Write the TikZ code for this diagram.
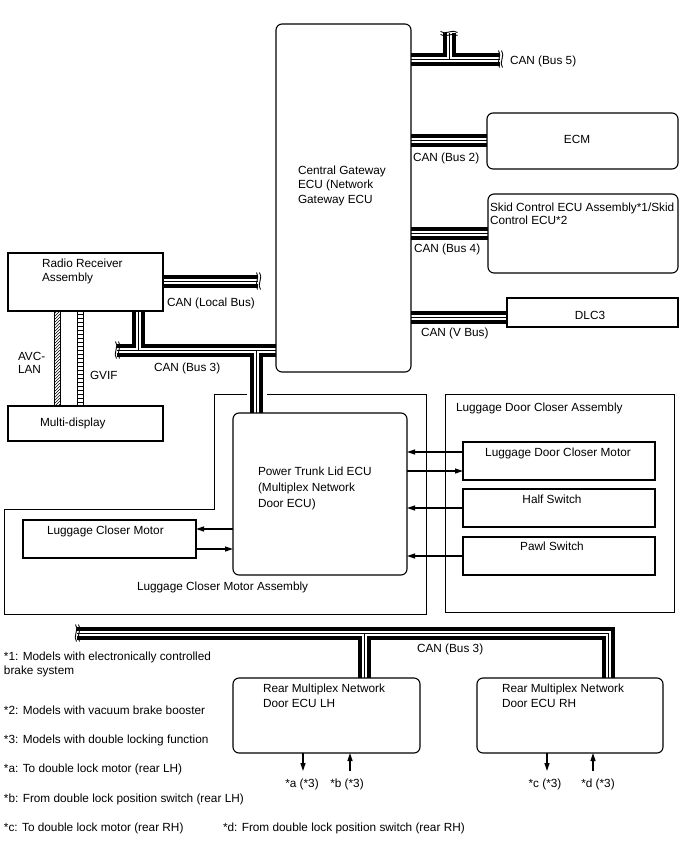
\documentclass[tikz,border=0pt]{standalone}
\usepackage{fontspec}
\setmainfont{Liberation Sans}
\usetikzlibrary{arrows.meta}
\pgfdeclarelayer{bg}
\pgfsetlayers{bg,main}
\newcommand\busdraw[1]{\draw[busA]#1;\draw[busB]#1;\draw[busC]#1;}
\begin{document}
\begin{tikzpicture}[x=1pt,y=-1pt,
  every node/.style={inner sep=0pt, outer sep=0pt},
  txt/.style={font=\fontsize{11.8}{14}\selectfont, align=left},
  rbox/.style={draw, line width=1.1pt, rounded corners=6pt, anchor=north west},
  sbox/.style={draw, line width=1.1pt, anchor=north west},
  frame/.style={draw, line width=1pt},
  busA/.style={line width=13pt, line join=miter},
  busB/.style={line width=5pt, white, line join=miter},
  busC/.style={line width=1pt},
  arr/.style={line width=1.2pt, -{Triangle[length=8pt,width=5pt]}},
  vsq/.pic={\draw[line width=0.9pt] (-1.5,-8.5) .. controls (2.5,-4) and (-4.5,4) .. (-0.5,8.5);
            \draw[line width=0.9pt] (1.5,-8.5) .. controls (5.5,-4) and (-1.5,4) .. (2.5,8.5);},
  hsq/.pic={\draw[line width=0.9pt] (-8.5,-1.5) .. controls (-4,2.5) and (4,-4.5) .. (8.5,-0.5);
            \draw[line width=0.9pt] (-8.5,1.5) .. controls (-4,5.5) and (4,-1.5) .. (8.5,2.5);}
]
\useasboundingbox (0,0) rectangle (688,852);

% ---------- boxes ----------
\node[rbox, minimum width=135pt, minimum height=348pt] (gw) at (276,24) {};
\node[rbox, minimum width=191pt, minimum height=56pt] (ecm) at (487,113) {};
\node[rbox, minimum width=190pt, minimum height=79pt] (skid) at (488,194) {};
\node[sbox, minimum width=171pt, minimum height=29pt] (dlc) at (507,298) {};
\node[sbox, minimum width=155pt, minimum height=58pt] (radio) at (8,253) {};
\node[sbox, minimum width=155pt, minimum height=35pt] (md) at (8,406) {};
\node[rbox, minimum width=174pt, minimum height=162pt] (ptl) at (233,413) {};
\node[sbox, minimum width=173pt, minimum height=38pt] (lcm) at (23,520) {};
\node[frame, anchor=north west, minimum width=229pt, minimum height=218pt] (ldca) at (445,394) {};
\node[sbox, minimum width=192pt, minimum height=38pt] (ldcm) at (463,442) {};
\node[sbox, minimum width=192pt, minimum height=38pt] (half) at (463,489) {};
\node[sbox, minimum width=192pt, minimum height=38pt] (pawl) at (463,537) {};
\node[rbox, minimum width=187pt, minimum height=75pt] (rlh) at (233,678) {};
\node[rbox, minimum width=186pt, minimum height=75pt] (rrh) at (477,678) {};

% Luggage Closer Motor Assembly frame
\draw[frame] (247,394) -- (214,394) -- (214,509) -- (4,509) -- (4,614) -- (426,614) -- (426,394) -- (267,394);

% ---------- texts ----------
\node[txt, anchor=north west] (tgw) at (298,165.7) {Central Gateway\\[0.5pt]ECU (Network\\[0.5pt]Gateway ECU};
\node[txt, anchor=base] (tecm) at (577,143.1) {ECM};
\node[txt, anchor=north west, font=\fontsize{11.8}{13}\selectfont] (tskid) at (490,202.7) {Skid Control ECU Assembly*1/Skid\\Control ECU*2};
\node[txt, anchor=base] (tdlc) at (590,319.1) {DLC3};
\node[txt, anchor=north west] (tradio) at (42,258.7) {Radio Receiver\\Assembly};
\node[txt, anchor=base west] (tmd) at (40,426.1) {Multi-display};
\node[txt, anchor=north west, font=\fontsize{11.8}{16}\selectfont] (tptl) at (258,466.7) {Power Trunk Lid ECU\\(Multiplex Network\\Door ECU)};
\node[txt, anchor=base west] (tlcm) at (47,534.1) {Luggage Closer Motor};
\node[txt, anchor=base west] (tlcma) at (137,590.1) {Luggage Closer Motor Assembly};
\node[txt, anchor=base west] (tldca) at (456,411.1) {Luggage Door Closer Assembly};
\node[txt, anchor=base] (tldcm) at (558,456.1) {Luggage Door Closer Motor};
\node[txt, anchor=base] (thalf) at (552,503.1) {Half Switch};
\node[txt, anchor=base] (tpawl) at (552,550.1) {Pawl Switch};
\node[txt, anchor=north west, font=\fontsize{11.8}{15}\selectfont] (trlh) at (263,683.7) {Rear Multiplex Network\\Door ECU LH};
\node[txt, anchor=north west, font=\fontsize{11.8}{15}\selectfont] (trrh) at (502,683.7) {Rear Multiplex Network\\Door ECU RH};

% bus labels
\node[txt, anchor=base west] (lb5) at (510,64.1) {CAN (Bus 5)};
\node[txt, anchor=base west] (lb2) at (413,161.1) {CAN (Bus 2)};
\node[txt, anchor=base west] (lb4) at (414,252.1) {CAN (Bus 4)};
\node[txt, anchor=base west] (lbv) at (421,336.1) {CAN (V Bus)};
\node[txt, anchor=base west] (lbl) at (167,306.1) {CAN (Local Bus)};
\node[txt, anchor=base west] (lb3u) at (154,371.1) {CAN (Bus 3)};
\node[txt, anchor=base west] (lb3l) at (417,652.1) {CAN (Bus 3)};
\node[txt, anchor=north west, font=\fontsize{11.8}{12.5}\selectfont] (tavc) at (18,352.7) {AVC-\\LAN};
\node[txt, anchor=base west] (tgvif) at (90,379.1) {GVIF};

% footnotes
\node[txt, anchor=north west] (n1) at (4,651.7) {*1: Models with electronically controlled\\brake system};
\node[txt, anchor=base west] (n2) at (4,714.1) {*2: Models with vacuum brake booster};
\node[txt, anchor=base west] (n3) at (4,743.1) {*3: Models with double locking function};
\node[txt, anchor=base west] (na) at (4,772.1) {*a: To double lock motor (rear LH)};
\node[txt, anchor=base west] (nb) at (4,802.1) {*b: From double lock position switch (rear LH)};
\node[txt, anchor=base west] (nc) at (4,831.1) {*c: To double lock motor (rear RH)};
\node[txt, anchor=base west] (nd) at (223,831.1) {*d: From double lock position switch (rear RH)};

% signal labels under rear ECUs
\node[txt, anchor=base] (sa) at (302,787.1) {*a (*3)};
\node[txt, anchor=base] (sb) at (347,787.1) {*b (*3)};
\node[txt, anchor=base] (sc) at (545,787.1) {*c (*3)};
\node[txt, anchor=base] (sd) at (598,787.1) {*d (*3)};

% ---------- CAN buses ----------
\coordinate (b5e) at (500,59);
\coordinate (b5j) at (449,59);
\coordinate (b5t) at (449,33);
\coordinate (b2) at (0,140);
\coordinate (b4) at (0,233);
\coordinate (bv) at (0,317);
\coordinate (lbe) at (258,281);
\coordinate (u3l) at (117,350);
\coordinate (u3a) at (138,350);
\coordinate (u3b) at (256,350);
\coordinate (l3l) at (77,633);
\coordinate (l3m) at (364,633);
\coordinate (l3r) at (608,633);
\begin{pgfonlayer}{bg}
\busdraw{(gw.east |- b5e) -- (b5e) (b5j) -- (b5t)}
\busdraw{(gw.east |- b2) -- (ecm.west |- b2)}
\busdraw{(gw.east |- b4) -- (skid.west |- b4)}
\busdraw{(gw.east |- bv) -- (dlc.west |- bv)}
\busdraw{(radio.east |- lbe) -- (lbe)}
\busdraw{(u3l) -- (gw.west |- u3l) (radio.south -| u3a) -- (u3a) (u3b) -- (ptl.north -| u3b)}
\busdraw{(l3l) -- (l3r) -- (rrh.north -| l3r) (l3m) -- (rlh.north -| l3m)}
\end{pgfonlayer}
\pic at (b5e) {vsq};
\pic at (b5t) {hsq};
\pic at (lbe) {vsq};
\pic at (u3l) {vsq};
\pic at (l3l) {vsq};

% ---------- AVC-LAN and GVIF ----------
\coordinate (avl) at (54,0);
\coordinate (avr) at (60,0);
\coordinate (gvl) at (77,0);
\coordinate (gvr) at (83,0);
\draw[line width=0.8pt] (radio.south -| avl) -- (md.north -| avl) (radio.south -| avr) -- (md.north -| avr);
\begin{scope}
\clip (54,311) rectangle (60,406);
\foreach \k in {0,3,...,105} \draw[line width=0.6pt] (54,311+\k) -- (60,305+\k);
\end{scope}
\draw[line width=0.8pt] (radio.south -| gvl) -- (md.north -| gvl) (radio.south -| gvr) -- (md.north -| gvr);
\foreach \k in {314,318,...,404} \draw[line width=0.7pt] (77,\k) -- (83,\k);

% ---------- arrows ----------
\draw[arr] ([yshift=10pt]lcm.east -| ptl.west) -- ([yshift=10pt]lcm.east);
\draw[arr] ([yshift=-10pt]lcm.east) -- ([yshift=-10pt]lcm.east -| ptl.west);
\draw[arr] ([yshift=9pt]ldcm.west) -- ([yshift=9pt]ldcm.west -| ptl.east);
\draw[arr] ([yshift=-10pt]ldcm.west -| ptl.east) -- ([yshift=-10pt]ldcm.west);
\draw[arr] (half.west) -- (half.west -| ptl.east);
\draw[arr] (pawl.west) -- (pawl.west -| ptl.east);

\coordinate (ca) at (303,771);
\coordinate (cb) at (350,771);
\coordinate (cc) at (547,771);
\coordinate (cd) at (593,771);
\draw[arr] (rlh.south -| ca) -- (ca);
\draw[arr] (cb) -- (rlh.south -| cb);
\draw[arr] (rrh.south -| cc) -- (cc);
\draw[arr] (cd) -- (rrh.south -| cd);
\end{tikzpicture}
\end{document}
